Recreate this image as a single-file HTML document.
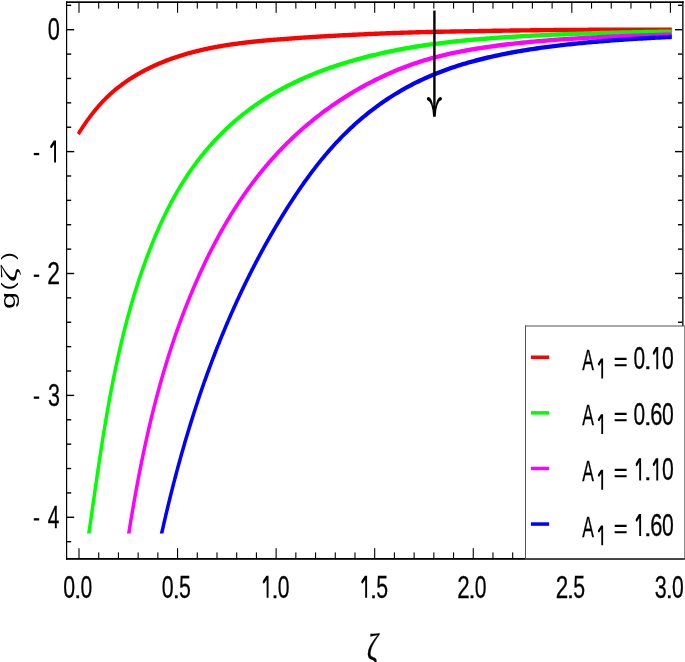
<!DOCTYPE html><html><head><meta charset="utf-8"><style>html,body{margin:0;padding:0;background:#fff;overflow:hidden}svg{display:block}</style></head><body><svg width="685" height="662" viewBox="0 0 685 662"><rect width="685" height="662" fill="#fff"/><defs><clipPath id="pc"><rect x="67" y="3" width="605.5" height="530.5"/></clipPath></defs>
<g clip-path="url(#pc)">
<g transform="scale(1,1.27)" fill="none" stroke-width="3.45" stroke-linejoin="round">
<path d="M78.27,105.505 L79.02,104.563 L79.45,104.014 L79.89,103.465 L80.34,102.918 L80.78,102.370 L81.23,101.824 L81.68,101.278 L82.13,100.734 L82.59,100.190 L83.04,99.646 L83.51,99.104 L83.97,98.563 L84.44,98.023 L84.90,97.483 L85.38,96.945 L85.85,96.408 L86.33,95.872 L86.81,95.338 L87.29,94.804 L87.78,94.272 L88.27,93.741 L88.76,93.212 L89.25,92.684 L89.75,92.157 L90.25,91.632 L90.75,91.108 L91.26,90.586 L91.77,90.066 L92.28,89.547 L92.79,89.030 L93.31,88.514 L93.83,88.001 L94.36,87.489 L94.88,86.979 L95.41,86.470 L95.95,85.964 L96.48,85.460 L97.02,84.958 L97.57,84.457 L98.11,83.959 L98.66,83.463 L99.21,82.969 L99.77,82.478 L100.33,81.988 L100.89,81.501 L101.45,81.016 L102.02,80.534 L102.59,80.054 L103.17,79.576 L103.74,79.101 L104.33,78.629 L104.91,78.159 L105.50,77.691 L106.09,77.226 L106.68,76.764 L107.28,76.305 L107.88,75.848 L108.49,75.395 L109.10,74.944 L109.71,74.496 L110.32,74.050 L110.94,73.608 L111.56,73.169 L112.19,72.733 L112.82,72.300 L113.45,71.870 L114.08,71.442 L114.72,71.018 L115.37,70.597 L116.01,70.179 L116.66,69.764 L117.31,69.351 L117.97,68.942 L118.62,68.536 L119.28,68.132 L119.95,67.732 L120.61,67.334 L121.28,66.939 L121.95,66.547 L122.63,66.158 L123.30,65.772 L123.98,65.389 L124.66,65.009 L125.35,64.631 L126.03,64.257 L126.72,63.885 L127.41,63.516 L128.11,63.150 L128.80,62.786 L129.50,62.426 L130.20,62.068 L130.90,61.713 L131.60,61.361 L132.31,61.012 L133.02,60.665 L133.73,60.321 L134.44,59.980 L135.15,59.642 L135.86,59.306 L136.58,58.973 L137.30,58.643 L138.02,58.316 L138.74,57.991 L139.46,57.669 L140.18,57.349 L140.91,57.033 L141.63,56.719 L142.36,56.407 L143.09,56.098 L143.82,55.792 L144.55,55.489 L145.28,55.188 L146.01,54.889 L146.75,54.594 L147.48,54.301 L148.22,54.010 L148.96,53.722 L149.70,53.436 L150.44,53.153 L151.18,52.872 L151.92,52.594 L152.66,52.319 L153.41,52.046 L154.16,51.775 L154.90,51.506 L155.65,51.241 L156.40,50.977 L157.15,50.716 L157.90,50.457 L158.66,50.201 L159.41,49.947 L160.16,49.695 L160.92,49.446 L161.68,49.199 L162.43,48.954 L163.19,48.712 L163.95,48.471 L164.71,48.233 L165.48,47.998 L166.24,47.764 L167.00,47.533 L167.77,47.304 L168.54,47.077 L169.30,46.853 L170.07,46.630 L170.84,46.410 L171.61,46.192 L172.38,45.976 L173.15,45.762 L173.93,45.550 L174.70,45.340 L175.48,45.132 L176.25,44.927 L177.03,44.723 L177.81,44.522 L178.58,44.322 L179.36,44.124 L180.14,43.929 L180.92,43.735 L181.71,43.544 L182.49,43.354 L183.27,43.167 L184.06,42.981 L184.84,42.797 L185.63,42.615 L186.42,42.435 L187.21,42.257 L187.99,42.081 L188.78,41.906 L189.57,41.734 L190.37,41.563 L191.16,41.394 L191.95,41.227 L192.74,41.061 L193.54,40.898 L194.33,40.736 L195.13,40.576 L195.93,40.417 L196.72,40.261 L197.52,40.106 L198.32,39.952 L199.12,39.801 L199.92,39.651 L200.72,39.503 L201.52,39.356 L202.33,39.211 L203.13,39.068 L203.93,38.926 L204.74,38.786 L205.54,38.647 L206.35,38.510 L207.15,38.374 L207.96,38.240 L208.77,38.108 L209.58,37.977 L210.39,37.848 L211.19,37.720 L212.00,37.593 L212.82,37.468 L213.63,37.344 L214.44,37.222 L215.25,37.102 L216.06,36.982 L216.88,36.864 L217.69,36.748 L218.51,36.632 L219.32,36.518 L220.14,36.406 L220.95,36.295 L221.77,36.185 L222.59,36.076 L223.41,35.969 L224.22,35.863 L225.04,35.758 L225.86,35.654 L226.68,35.552 L227.50,35.451 L228.32,35.351 L229.14,35.252 L229.97,35.155 L230.79,35.059 L231.61,34.963 L232.43,34.869 L233.26,34.776 L234.08,34.684 L234.91,34.594 L235.73,34.504 L236.56,34.416 L237.38,34.328 L238.21,34.242 L239.03,34.156 L239.86,34.072 L240.69,33.988 L241.51,33.906 L242.34,33.824 L243.17,33.744 L244.00,33.665 L244.83,33.586 L245.65,33.508 L246.48,33.432 L247.31,33.356 L248.14,33.281 L248.97,33.207 L249.80,33.134 L250.63,33.061 L251.46,32.990 L252.30,32.919 L253.13,32.849 L253.96,32.780 L254.79,32.712 L255.62,32.644 L256.45,32.578 L257.29,32.512 L258.12,32.446 L258.95,32.382 L259.79,32.318 L260.62,32.255 L261.45,32.192 L262.29,32.131 L263.12,32.069 L263.95,32.009 L264.79,31.949 L265.62,31.890 L266.46,31.831 L267.29,31.773 L268.13,31.715 L268.96,31.658 L269.80,31.602 L270.63,31.546 L271.47,31.491 L272.30,31.436 L273.14,31.381 L273.97,31.328 L274.81,31.274 L275.64,31.221 L276.48,31.169 L277.31,31.117 L278.15,31.065 L278.98,31.014 L279.82,30.963 L280.66,30.912 L281.49,30.862 L282.33,30.812 L283.16,30.763 L284.00,30.714 L284.83,30.665 L285.67,30.616 L286.50,30.568 L287.34,30.520 L288.18,30.472 L289.01,30.425 L289.85,30.378 L290.68,30.331 L291.52,30.284 L292.35,30.237 L293.19,30.191 L294.02,30.145 L294.86,30.099 L295.69,30.053 L296.53,30.008 L297.36,29.962 L298.20,29.917 L299.03,29.872 L299.87,29.828 L301.00,29.767 L303.00,29.662 L305.00,29.558 L307.00,29.454 L309.00,29.352 L311.00,29.252 L313.00,29.152 L315.00,29.054 L317.00,28.956 L319.00,28.860 L321.00,28.765 L323.00,28.671 L325.00,28.578 L327.00,28.487 L329.00,28.396 L331.00,28.307 L333.00,28.218 L335.00,28.131 L337.00,28.045 L339.00,27.960 L341.00,27.876 L343.00,27.793 L345.00,27.711 L347.00,27.630 L349.00,27.550 L351.00,27.472 L353.00,27.394 L355.00,27.317 L357.00,27.241 L359.00,27.167 L361.00,27.093 L363.00,27.020 L365.00,26.949 L367.00,26.878 L369.00,26.808 L371.00,26.740 L373.00,26.672 L375.00,26.605 L377.00,26.539 L379.00,26.474 L381.00,26.408 L383.00,26.339 L385.00,26.273 L387.00,26.208 L389.00,26.146 L391.00,26.084 L393.00,26.025 L395.00,25.967 L397.00,25.911 L399.00,25.856 L401.00,25.803 L403.00,25.751 L405.00,25.701 L407.00,25.651 L409.00,25.604 L411.00,25.557 L413.00,25.512 L415.00,25.468 L417.00,25.425 L419.00,25.383 L421.00,25.342 L423.00,25.302 L425.00,25.263 L427.00,25.225 L429.00,25.188 L431.00,25.152 L433.00,25.117 L435.00,25.083 L437.00,25.049 L439.00,25.016 L441.00,24.984 L443.00,24.953 L445.00,24.922 L447.00,24.892 L449.00,24.862 L451.00,24.833 L453.00,24.805 L455.00,24.777 L457.00,24.749 L459.00,24.722 L461.00,24.694 L463.00,24.664 L465.00,24.635 L467.00,24.605 L469.00,24.576 L471.00,24.548 L473.00,24.520 L475.00,24.492 L477.00,24.464 L479.00,24.437 L481.00,24.411 L483.00,24.384 L485.00,24.358 L487.00,24.332 L489.00,24.307 L491.00,24.282 L493.00,24.257 L495.00,24.233 L497.00,24.209 L499.00,24.185 L501.00,24.162 L503.00,24.139 L505.00,24.116 L507.00,24.094 L509.00,24.072 L511.00,24.050 L513.00,24.029 L515.00,24.008 L517.00,23.987 L519.00,23.967 L521.00,23.947 L523.00,23.928 L525.00,23.908 L527.00,23.890 L529.00,23.871 L531.00,23.853 L533.00,23.835 L535.00,23.818 L537.00,23.800 L539.00,23.784 L541.00,23.767 L543.00,23.751 L545.00,23.735 L547.00,23.720 L549.00,23.705 L551.00,23.690 L553.00,23.676 L555.00,23.662 L557.00,23.648 L559.00,23.635 L561.00,23.622 L563.00,23.609 L565.00,23.597 L567.00,23.585 L569.00,23.573 L571.00,23.562 L573.00,23.551 L575.00,23.541 L577.00,23.530 L579.00,23.520 L581.00,23.511 L583.00,23.502 L585.00,23.493 L587.00,23.484 L589.00,23.476 L591.00,23.468 L593.00,23.461 L595.00,23.454 L597.00,23.447 L599.00,23.441 L601.00,23.434 L603.00,23.429 L605.00,23.423 L607.00,23.418 L609.00,23.414 L611.00,23.409 L613.00,23.405 L615.00,23.401 L617.00,23.398 L619.00,23.395 L621.00,23.393 L623.00,23.390 L625.00,23.388 L627.00,23.387 L629.00,23.385 L631.00,23.385 L633.00,23.384 L635.00,23.384 L637.00,23.384 L639.00,23.384 L641.00,23.385 L643.00,23.386 L645.00,23.388 L647.00,23.390 L649.00,23.392 L651.00,23.394 L653.00,23.397 L655.00,23.400 L657.00,23.404 L659.00,23.408 L661.00,23.412 L663.00,23.417 L665.00,23.422 L667.00,23.427 L669.00,23.433 L671.00,23.439 L671.80,23.441" stroke="#ff0000"/>
<path d="M88.15,423.779 L89.09,418.638 L89.26,417.706 L89.43,416.775 L89.61,415.843 L89.78,414.911 L89.95,413.979 L90.12,413.047 L90.29,412.114 L90.46,411.182 L90.63,410.249 L90.80,409.316 L90.97,408.384 L91.14,407.451 L91.31,406.518 L91.48,405.584 L91.65,404.651 L91.81,403.718 L91.98,402.784 L92.15,401.851 L92.32,400.917 L92.49,399.984 L92.66,399.050 L92.83,398.116 L93.00,397.182 L93.17,396.248 L93.34,395.314 L93.51,394.380 L93.68,393.445 L93.85,392.511 L94.02,391.577 L94.19,390.642 L94.36,389.708 L94.53,388.773 L94.70,387.839 L94.87,386.904 L95.04,385.970 L95.22,385.035 L95.39,384.100 L95.56,383.165 L95.73,382.231 L95.90,381.296 L96.07,380.361 L96.25,379.426 L96.42,378.491 L96.59,377.556 L96.77,376.621 L96.94,375.686 L97.11,374.751 L97.29,373.816 L97.46,372.881 L97.64,371.946 L97.81,371.011 L97.99,370.076 L98.16,369.141 L98.34,368.206 L98.52,367.271 L98.69,366.337 L98.87,365.402 L99.05,364.467 L99.23,363.532 L99.41,362.597 L99.58,361.662 L99.76,360.728 L99.94,359.793 L100.12,358.858 L100.31,357.924 L100.49,356.989 L100.67,356.054 L100.85,355.120 L101.04,354.185 L101.22,353.251 L101.40,352.317 L101.59,351.382 L101.77,350.448 L101.96,349.514 L102.15,348.580 L102.33,347.646 L102.52,346.712 L102.71,345.778 L102.90,344.845 L103.09,343.911 L103.28,342.977 L103.47,342.044 L103.66,341.111 L103.85,340.177 L104.05,339.244 L104.24,338.311 L104.43,337.378 L104.63,336.445 L104.83,335.512 L105.02,334.580 L105.22,333.647 L105.42,332.715 L105.62,331.783 L105.82,330.851 L106.02,329.918 L106.22,328.987 L106.42,328.055 L106.63,327.123 L106.83,326.192 L107.04,325.260 L107.24,324.329 L107.45,323.398 L107.66,322.467 L107.86,321.537 L108.07,320.606 L108.28,319.676 L108.50,318.745 L108.71,317.815 L108.92,316.885 L109.14,315.956 L109.35,315.026 L109.57,314.097 L109.78,313.168 L110.00,312.239 L110.22,311.310 L110.44,310.381 L110.66,309.453 L110.89,308.524 L111.11,307.596 L111.33,306.668 L111.56,305.741 L111.79,304.813 L112.01,303.886 L112.24,302.959 L112.47,302.032 L112.70,301.106 L112.94,300.179 L113.17,299.253 L113.40,298.327 L113.64,297.402 L113.88,296.476 L114.12,295.551 L114.36,294.626 L114.60,293.701 L114.84,292.777 L115.08,291.852 L115.33,290.928 L115.57,290.005 L115.82,289.081 L116.07,288.158 L116.32,287.235 L116.57,286.312 L116.82,285.390 L117.07,284.468 L117.33,283.546 L117.58,282.624 L117.84,281.703 L118.10,280.782 L118.36,279.861 L118.62,278.941 L118.89,278.020 L119.15,277.101 L119.42,276.181 L119.69,275.262 L119.95,274.343 L120.23,273.424 L120.50,272.506 L120.77,271.587 L121.05,270.670 L121.32,269.752 L121.60,268.835 L121.88,267.918 L122.16,267.002 L122.44,266.086 L122.73,265.170 L123.01,264.254 L123.30,263.339 L123.59,262.424 L123.88,261.510 L124.17,260.596 L124.46,259.682 L124.76,258.769 L125.06,257.856 L125.36,256.943 L125.66,256.031 L125.96,255.119 L126.26,254.207 L126.57,253.296 L126.87,252.385 L127.18,251.474 L127.49,250.564 L127.81,249.654 L128.12,248.745 L128.44,247.836 L128.75,246.927 L129.07,246.019 L129.39,245.111 L129.72,244.204 L130.04,243.297 L130.37,242.390 L130.70,241.484 L131.03,240.578 L131.36,239.673 L131.69,238.768 L132.03,237.864 L132.37,236.959 L132.71,236.056 L133.05,235.152 L133.39,234.250 L133.74,233.347 L134.08,232.445 L134.43,231.544 L134.78,230.642 L135.14,229.742 L135.49,228.842 L135.85,227.942 L136.21,227.042 L136.57,226.144 L136.93,225.245 L137.30,224.347 L137.67,223.450 L138.04,222.553 L138.41,221.656 L138.78,220.760 L139.16,219.865 L139.53,218.969 L139.91,218.075 L140.30,217.181 L140.68,216.287 L141.07,215.394 L141.46,214.501 L141.85,213.609 L142.24,212.717 L142.63,211.826 L143.03,210.935 L143.43,210.045 L143.83,209.155 L144.24,208.266 L144.64,207.378 L145.05,206.489 L145.46,205.602 L145.87,204.715 L146.29,203.828 L146.71,202.942 L147.13,202.057 L147.55,201.172 L147.97,200.287 L148.40,199.403 L148.83,198.520 L149.26,197.637 L149.69,196.755 L150.13,195.874 L150.57,194.993 L151.01,194.113 L151.45,193.234 L151.90,192.355 L152.35,191.477 L152.80,190.600 L153.26,189.723 L153.71,188.848 L154.17,187.973 L154.63,187.099 L155.10,186.226 L155.57,185.354 L156.04,184.483 L156.51,183.613 L156.99,182.743 L157.46,181.875 L157.95,181.007 L158.43,180.141 L158.92,179.276 L159.41,178.412 L159.90,177.548 L160.40,176.686 L160.90,175.825 L161.40,174.966 L161.91,174.107 L162.41,173.250 L162.93,172.393 L163.44,171.539 L163.96,170.685 L164.48,169.832 L165.00,168.981 L165.53,168.131 L166.06,167.283 L166.60,166.436 L167.13,165.590 L167.67,164.746 L168.22,163.903 L168.76,163.061 L169.32,162.221 L169.87,161.383 L170.43,160.546 L170.99,159.710 L171.55,158.876 L172.12,158.044 L172.69,157.213 L173.27,156.384 L173.85,155.556 L174.43,154.730 L175.01,153.906 L175.60,153.084 L176.20,152.263 L176.79,151.444 L177.40,150.626 L178.00,149.811 L178.61,148.997 L179.22,148.185 L179.84,147.375 L180.46,146.567 L181.08,145.761 L181.71,144.957 L182.34,144.154 L182.97,143.354 L183.61,142.555 L184.26,141.759 L184.91,140.964 L185.56,140.172 L186.21,139.381 L186.87,138.593 L187.54,137.807 L188.20,137.023 L188.88,136.241 L189.55,135.461 L190.23,134.683 L190.92,133.908 L191.61,133.135 L192.30,132.364 L193.00,131.595 L193.70,130.829 L194.41,130.065 L195.12,129.303 L195.83,128.544 L196.55,127.787 L197.28,127.033 L198.00,126.280 L198.74,125.531 L199.47,124.784 L200.21,124.039 L200.96,123.297 L201.71,122.557 L202.46,121.820 L203.22,121.086 L203.98,120.354 L204.75,119.625 L205.52,118.898 L206.29,118.175 L207.07,117.454 L207.85,116.735 L208.64,116.020 L209.43,115.307 L210.22,114.597 L211.02,113.890 L211.82,113.186 L212.63,112.484 L213.44,111.786 L214.26,111.091 L215.07,110.398 L215.89,109.708 L216.72,109.022 L217.55,108.338 L218.38,107.658 L219.22,106.981 L220.06,106.306 L220.91,105.635 L221.75,104.967 L222.61,104.303 L223.46,103.641 L224.32,102.983 L225.18,102.327 L226.05,101.676 L226.92,101.027 L227.79,100.382 L228.67,99.740 L229.55,99.101 L230.44,98.466 L231.32,97.835 L232.22,97.206 L233.11,96.582 L234.01,95.960 L234.91,95.342 L235.82,94.728 L236.73,94.117 L237.64,93.510 L238.55,92.907 L239.47,92.307 L240.39,91.711 L241.32,91.118 L242.25,90.529 L243.18,89.944 L244.11,89.363 L245.05,88.785 L245.99,88.212 L246.94,87.642 L247.89,87.075 L248.84,86.513 L249.79,85.954 L250.75,85.399 L251.71,84.848 L252.67,84.301 L253.64,83.757 L254.61,83.217 L255.58,82.680 L256.56,82.148 L257.54,81.619 L258.52,81.093 L259.50,80.571 L260.49,80.053 L261.48,79.538 L262.47,79.027 L263.47,78.520 L264.47,78.016 L265.47,77.515 L266.47,77.018 L267.48,76.525 L268.49,76.035 L269.50,75.548 L270.52,75.065 L271.54,74.586 L272.56,74.110 L273.58,73.637 L274.61,73.168 L275.63,72.702 L276.67,72.239 L277.70,71.780 L278.73,71.324 L279.77,70.872 L280.81,70.422 L281.86,69.977 L282.90,69.534 L283.95,69.095 L285.00,68.659 L286.06,68.226 L287.11,67.796 L288.17,67.370 L289.23,66.947 L290.29,66.527 L291.36,66.110 L292.42,65.697 L293.49,65.287 L294.57,64.879 L295.64,64.475 L296.72,64.074 L297.79,63.676 L298.87,63.281 L299.96,62.890 L301.00,62.516 L303.00,61.808 L305.00,61.114 L307.00,60.431 L309.00,59.761 L311.00,59.103 L313.00,58.456 L315.00,57.821 L317.00,57.197 L319.00,56.583 L321.00,55.981 L323.00,55.389 L325.00,54.807 L327.00,54.235 L329.00,53.674 L331.00,53.122 L333.00,52.580 L335.00,52.047 L337.00,51.523 L339.00,51.009 L341.00,50.503 L343.00,50.006 L345.00,49.518 L347.00,49.039 L349.00,48.567 L351.00,48.104 L353.00,47.649 L355.00,47.201 L357.00,46.762 L359.00,46.330 L361.00,45.905 L363.00,45.488 L365.00,45.078 L367.00,44.676 L369.00,44.280 L371.00,43.891 L373.00,43.509 L375.00,43.134 L377.00,42.765 L379.00,42.403 L381.00,42.045 L383.00,41.692 L385.00,41.346 L387.00,41.005 L389.00,40.670 L391.00,40.342 L393.00,40.019 L395.00,39.702 L397.00,39.391 L399.00,39.086 L401.00,38.787 L403.00,38.493 L405.00,38.205 L407.00,37.923 L409.00,37.646 L411.00,37.374 L413.00,37.109 L415.00,36.848 L417.00,36.593 L419.00,36.343 L421.00,36.098 L423.00,35.858 L425.00,35.623 L427.00,35.394 L429.00,35.169 L431.00,34.949 L433.00,34.734 L435.00,34.523 L437.00,34.317 L439.00,34.116 L441.00,33.919 L443.00,33.727 L445.00,33.539 L447.00,33.355 L449.00,33.175 L451.00,32.999 L453.00,32.827 L455.00,32.659 L457.00,32.495 L459.00,32.334 L461.00,32.175 L463.00,32.017 L465.00,31.862 L467.00,31.711 L469.00,31.562 L471.00,31.416 L473.00,31.273 L475.00,31.132 L477.00,30.995 L479.00,30.860 L481.00,30.727 L483.00,30.597 L485.00,30.470 L487.00,30.345 L489.00,30.222 L491.00,30.102 L493.00,29.984 L495.00,29.868 L497.00,29.755 L499.00,29.643 L501.00,29.534 L503.00,29.427 L505.00,29.321 L507.00,29.218 L509.00,29.117 L511.00,29.018 L513.00,28.920 L515.00,28.824 L517.00,28.731 L519.00,28.638 L521.00,28.548 L523.00,28.459 L525.00,28.372 L527.00,28.287 L529.00,28.203 L531.00,28.121 L533.00,28.040 L535.00,27.961 L537.00,27.883 L539.00,27.807 L541.00,27.732 L543.00,27.658 L545.00,27.586 L547.00,27.515 L549.00,27.446 L551.00,27.377 L553.00,27.310 L555.00,27.244 L557.00,27.180 L559.00,27.116 L561.00,27.054 L563.00,26.993 L565.00,26.933 L567.00,26.874 L569.00,26.816 L571.00,26.759 L573.00,26.704 L575.00,26.649 L577.00,26.595 L579.00,26.542 L581.00,26.490 L583.00,26.439 L585.00,26.389 L587.00,26.340 L589.00,26.292 L591.00,26.245 L593.00,26.198 L595.00,26.152 L597.00,26.107 L599.00,26.063 L601.00,26.020 L603.00,25.978 L605.00,25.936 L607.00,25.895 L609.00,25.854 L611.00,25.815 L613.00,25.776 L615.00,25.738 L617.00,25.700 L619.00,25.663 L621.00,25.627 L623.00,25.591 L625.00,25.556 L627.00,25.522 L629.00,25.488 L631.00,25.455 L633.00,25.422 L635.00,25.390 L637.00,25.359 L639.00,25.328 L641.00,25.298 L643.00,25.268 L645.00,25.238 L647.00,25.209 L649.00,25.181 L651.00,25.153 L653.00,25.126 L655.00,25.099 L657.00,25.072 L659.00,25.046 L661.00,25.021 L663.00,24.996 L665.00,24.971 L667.00,24.947 L669.00,24.923 L671.00,24.899 L671.80,24.890" stroke="#00ff00"/>
<path d="M128.01,423.759 L129.05,418.659 L129.22,417.789 L129.40,416.918 L129.58,416.048 L129.76,415.178 L129.94,414.308 L130.12,413.438 L130.30,412.568 L130.48,411.698 L130.66,410.829 L130.84,409.959 L131.03,409.090 L131.21,408.220 L131.39,407.351 L131.58,406.482 L131.76,405.613 L131.95,404.744 L132.14,403.876 L132.32,403.007 L132.51,402.139 L132.70,401.270 L132.89,400.402 L133.08,399.534 L133.27,398.666 L133.46,397.798 L133.65,396.931 L133.85,396.063 L134.04,395.196 L134.23,394.328 L134.43,393.461 L134.62,392.594 L134.82,391.727 L135.02,390.861 L135.21,389.994 L135.41,389.128 L135.61,388.261 L135.81,387.395 L136.01,386.529 L136.21,385.664 L136.42,384.798 L136.62,383.932 L136.82,383.067 L137.03,382.202 L137.23,381.337 L137.44,380.472 L137.64,379.607 L137.85,378.743 L138.06,377.878 L138.27,377.014 L138.48,376.150 L138.69,375.286 L138.90,374.422 L139.11,373.559 L139.32,372.695 L139.54,371.832 L139.75,370.969 L139.97,370.106 L140.18,369.243 L140.40,368.381 L140.62,367.519 L140.84,366.657 L141.06,365.795 L141.28,364.933 L141.50,364.071 L141.72,363.210 L141.95,362.349 L142.17,361.488 L142.40,360.627 L142.62,359.766 L142.85,358.906 L143.08,358.046 L143.31,357.186 L143.54,356.326 L143.77,355.466 L144.00,354.607 L144.23,353.748 L144.46,352.889 L144.70,352.030 L144.93,351.171 L145.17,350.313 L145.41,349.455 L145.64,348.597 L145.88,347.739 L146.12,346.881 L146.37,346.024 L146.61,345.167 L146.85,344.310 L147.10,343.454 L147.34,342.597 L147.59,341.741 L147.83,340.885 L148.08,340.029 L148.33,339.174 L148.58,338.318 L148.83,337.463 L149.09,336.609 L149.34,335.754 L149.59,334.900 L149.85,334.046 L150.11,333.192 L150.36,332.338 L150.62,331.485 L150.88,330.632 L151.14,329.779 L151.41,328.926 L151.67,328.074 L151.93,327.222 L152.20,326.370 L152.47,325.518 L152.73,324.667 L153.00,323.816 L153.27,322.965 L153.54,322.114 L153.82,321.264 L154.09,320.414 L154.36,319.564 L154.64,318.714 L154.92,317.865 L155.20,317.016 L155.47,316.167 L155.75,315.319 L156.04,314.470 L156.32,313.623 L156.60,312.775 L156.89,311.927 L157.18,311.080 L157.46,310.234 L157.75,309.387 L158.04,308.541 L158.33,307.695 L158.63,306.849 L158.92,306.004 L159.22,305.158 L159.51,304.314 L159.81,303.469 L160.11,302.625 L160.41,301.781 L160.71,300.937 L161.01,300.094 L161.32,299.251 L161.62,298.408 L161.93,297.565 L162.24,296.723 L162.55,295.881 L162.86,295.040 L163.17,294.198 L163.48,293.357 L163.80,292.517 L164.11,291.676 L164.43,290.836 L164.75,289.997 L165.07,289.157 L165.39,288.318 L165.71,287.479 L166.03,286.641 L166.36,285.803 L166.69,284.965 L167.01,284.128 L167.34,283.290 L167.68,282.454 L168.01,281.617 L168.34,280.781 L168.68,279.945 L169.01,279.110 L169.35,278.274 L169.69,277.440 L170.03,276.605 L170.37,275.771 L170.72,274.937 L171.06,274.104 L171.41,273.270 L171.76,272.438 L172.11,271.605 L172.46,270.773 L172.81,269.941 L173.16,269.110 L173.52,268.279 L173.88,267.448 L174.23,266.618 L174.59,265.788 L174.96,264.958 L175.32,264.129 L175.68,263.300 L176.05,262.471 L176.42,261.643 L176.79,260.815 L177.16,259.988 L177.53,259.161 L177.90,258.334 L178.28,257.508 L178.65,256.682 L179.03,255.856 L179.41,255.031 L179.79,254.206 L180.18,253.382 L180.56,252.557 L180.95,251.734 L181.34,250.910 L181.72,250.087 L182.12,249.265 L182.51,248.443 L182.90,247.621 L183.30,246.799 L183.70,245.978 L184.10,245.158 L184.50,244.337 L184.90,243.518 L185.30,242.698 L185.71,241.879 L186.12,241.060 L186.53,240.242 L186.94,239.424 L187.35,238.607 L187.76,237.790 L188.18,236.973 L188.60,236.157 L189.02,235.341 L189.44,234.526 L189.86,233.711 L190.28,232.896 L190.71,232.082 L191.14,231.268 L191.57,230.455 L192.00,229.642 L192.43,228.829 L192.87,228.017 L193.30,227.206 L193.74,226.394 L194.18,225.584 L194.62,224.773 L195.07,223.963 L195.51,223.154 L195.96,222.345 L196.41,221.537 L196.86,220.729 L197.31,219.922 L197.77,219.115 L198.22,218.308 L198.68,217.503 L199.14,216.698 L199.60,215.893 L200.07,215.089 L200.53,214.286 L201.00,213.483 L201.47,212.681 L201.94,211.879 L202.41,211.078 L202.89,210.278 L203.37,209.478 L203.84,208.679 L204.33,207.881 L204.81,207.083 L205.29,206.287 L205.78,205.490 L206.27,204.695 L206.76,203.900 L207.25,203.106 L207.75,202.313 L208.24,201.521 L208.74,200.729 L209.24,199.938 L209.74,199.148 L210.25,198.359 L210.75,197.570 L211.26,196.782 L211.77,195.996 L212.28,195.210 L212.80,194.424 L213.32,193.640 L213.83,192.857 L214.35,192.074 L214.88,191.293 L215.40,190.512 L215.93,189.732 L216.46,188.953 L216.99,188.176 L217.52,187.399 L218.06,186.623 L218.60,185.848 L219.13,185.074 L219.68,184.301 L220.22,183.528 L220.77,182.757 L221.31,181.987 L221.86,181.219 L222.42,180.451 L222.97,179.684 L223.53,178.918 L224.09,178.153 L224.65,177.390 L225.21,176.627 L225.78,175.866 L226.34,175.105 L226.91,174.346 L227.49,173.588 L228.06,172.831 L228.64,172.076 L229.22,171.321 L229.80,170.568 L230.38,169.816 L230.97,169.065 L231.55,168.315 L232.14,167.566 L232.74,166.819 L233.33,166.073 L233.93,165.328 L234.53,164.585 L235.13,163.842 L235.73,163.101 L236.34,162.362 L236.95,161.623 L237.56,160.886 L238.17,160.151 L238.79,159.416 L239.41,158.683 L240.03,157.952 L240.65,157.221 L241.28,156.492 L241.90,155.765 L242.53,155.039 L243.17,154.314 L243.80,153.591 L244.44,152.869 L245.08,152.149 L245.72,151.430 L246.36,150.712 L247.01,149.996 L247.66,149.282 L248.31,148.569 L248.97,147.857 L249.62,147.147 L250.28,146.439 L250.95,145.732 L251.61,145.026 L252.28,144.322 L252.95,143.620 L253.62,142.920 L254.29,142.221 L254.97,141.523 L255.65,140.827 L256.33,140.133 L257.01,139.440 L257.70,138.749 L258.39,138.060 L259.08,137.372 L259.78,136.686 L260.48,136.002 L261.18,135.320 L261.88,134.639 L262.58,133.960 L263.29,133.282 L264.00,132.606 L264.71,131.933 L265.43,131.260 L266.15,130.590 L266.87,129.921 L267.59,129.254 L268.32,128.589 L269.05,127.926 L269.78,127.265 L270.51,126.605 L271.25,125.947 L271.99,125.292 L272.73,124.638 L273.48,123.985 L274.23,123.335 L274.98,122.687 L275.73,122.040 L276.48,121.396 L277.24,120.753 L278.00,120.112 L278.77,119.473 L279.53,118.836 L280.30,118.201 L281.07,117.568 L281.85,116.937 L282.62,116.307 L283.40,115.680 L284.18,115.055 L284.97,114.432 L285.75,113.810 L286.54,113.191 L287.33,112.573 L288.13,111.958 L288.92,111.345 L289.72,110.733 L290.52,110.124 L291.33,109.517 L292.13,108.911 L292.94,108.308 L293.75,107.707 L294.57,107.108 L295.38,106.511 L296.20,105.916 L297.02,105.323 L297.84,104.732 L298.67,104.143 L299.50,103.557 L300.00,103.203 L302.00,101.806 L304.00,100.432 L306.00,99.078 L308.00,97.744 L310.00,96.431 L312.00,95.138 L314.00,93.865 L316.00,92.610 L318.00,91.375 L320.00,90.158 L322.00,88.960 L324.00,87.779 L326.00,86.617 L328.00,85.472 L330.00,84.344 L332.00,83.234 L334.00,82.140 L336.00,81.062 L338.00,80.002 L340.00,78.957 L342.00,77.928 L344.00,76.915 L346.00,75.918 L348.00,74.936 L350.00,73.970 L352.00,73.018 L354.00,72.082 L356.00,71.160 L358.00,70.253 L360.00,69.361 L362.00,68.483 L364.00,67.619 L366.00,66.769 L368.00,65.934 L370.00,65.112 L372.00,64.304 L374.00,63.509 L376.00,62.729 L378.00,61.961 L380.00,61.207 L382.00,60.452 L384.00,59.710 L386.00,58.980 L388.00,58.263 L390.00,57.559 L392.00,56.869 L394.00,56.192 L396.00,55.528 L398.00,54.878 L400.00,54.242 L402.00,53.619 L404.00,53.009 L406.00,52.413 L408.00,51.830 L410.00,51.259 L412.00,50.702 L414.00,50.157 L416.00,49.625 L418.00,49.105 L420.00,48.596 L422.00,48.100 L424.00,47.616 L426.00,47.143 L428.00,46.681 L430.00,46.231 L432.00,45.791 L434.00,45.363 L436.00,44.944 L438.00,44.536 L440.00,44.138 L442.00,43.750 L444.00,43.372 L446.00,43.003 L448.00,42.644 L450.00,42.293 L452.00,41.952 L454.00,41.619 L456.00,41.294 L458.00,40.977 L460.00,40.669 L462.00,40.364 L464.00,40.066 L466.00,39.774 L468.00,39.488 L470.00,39.208 L472.00,38.934 L474.00,38.666 L476.00,38.404 L478.00,38.147 L480.00,37.895 L482.00,37.649 L484.00,37.408 L486.00,37.172 L488.00,36.941 L490.00,36.714 L492.00,36.493 L494.00,36.275 L496.00,36.063 L498.00,35.855 L500.00,35.651 L502.00,35.451 L504.00,35.255 L506.00,35.063 L508.00,34.875 L510.00,34.691 L512.00,34.511 L514.00,34.334 L516.00,34.161 L518.00,33.991 L520.00,33.825 L522.00,33.662 L524.00,33.502 L526.00,33.345 L528.00,33.192 L530.00,33.041 L532.00,32.894 L534.00,32.749 L536.00,32.607 L538.00,32.468 L540.00,32.332 L542.00,32.198 L544.00,32.067 L546.00,31.939 L548.00,31.813 L550.00,31.689 L552.00,31.568 L554.00,31.449 L556.00,31.332 L558.00,31.218 L560.00,31.106 L562.00,30.995 L564.00,30.887 L566.00,30.781 L568.00,30.678 L570.00,30.575 L572.00,30.475 L574.00,30.377 L576.00,30.281 L578.00,30.186 L580.00,30.093 L582.00,30.002 L584.00,29.913 L586.00,29.825 L588.00,29.739 L590.00,29.654 L592.00,29.571 L594.00,29.490 L596.00,29.410 L598.00,29.331 L600.00,29.254 L602.00,29.178 L604.00,29.104 L606.00,29.031 L608.00,28.959 L610.00,28.889 L612.00,28.820 L614.00,28.752 L616.00,28.685 L618.00,28.619 L620.00,28.555 L622.00,28.492 L624.00,28.430 L626.00,28.369 L628.00,28.309 L630.00,28.250 L632.00,28.192 L634.00,28.135 L636.00,28.080 L638.00,28.025 L640.00,27.971 L642.00,27.918 L644.00,27.866 L646.00,27.815 L648.00,27.765 L650.00,27.715 L652.00,27.667 L654.00,27.619 L656.00,27.572 L658.00,27.526 L660.00,27.481 L662.00,27.436 L664.00,27.392 L666.00,27.349 L668.00,27.307 L670.00,27.266 L671.80,27.228" stroke="#ff00ff"/>
<path d="M160.62,423.672 L162.04,418.657 L162.27,417.845 L162.51,417.034 L162.74,416.223 L162.97,415.412 L163.21,414.601 L163.44,413.790 L163.67,412.980 L163.91,412.169 L164.15,411.359 L164.38,410.548 L164.62,409.738 L164.86,408.927 L165.10,408.117 L165.34,407.307 L165.58,406.497 L165.82,405.687 L166.06,404.877 L166.30,404.067 L166.55,403.258 L166.79,402.448 L167.04,401.639 L167.28,400.829 L167.53,400.020 L167.78,399.211 L168.02,398.402 L168.27,397.593 L168.52,396.784 L168.77,395.976 L169.02,395.167 L169.27,394.359 L169.52,393.550 L169.78,392.742 L170.03,391.934 L170.28,391.126 L170.54,390.318 L170.79,389.510 L171.05,388.703 L171.31,387.895 L171.56,387.088 L171.82,386.281 L172.08,385.474 L172.34,384.667 L172.60,383.860 L172.86,383.053 L173.13,382.247 L173.39,381.440 L173.65,380.634 L173.92,379.828 L174.18,379.022 L174.45,378.216 L174.72,377.410 L174.98,376.605 L175.25,375.799 L175.52,374.994 L175.79,374.189 L176.06,373.384 L176.33,372.579 L176.61,371.774 L176.88,370.970 L177.15,370.166 L177.43,369.361 L177.70,368.557 L177.98,367.754 L178.26,366.950 L178.53,366.146 L178.81,365.343 L179.09,364.540 L179.37,363.737 L179.65,362.934 L179.94,362.131 L180.22,361.329 L180.50,360.527 L180.79,359.725 L181.07,358.923 L181.36,358.121 L181.64,357.319 L181.93,356.518 L182.22,355.717 L182.51,354.916 L182.80,354.115 L183.09,353.314 L183.38,352.514 L183.68,351.713 L183.97,350.913 L184.26,350.113 L184.56,349.314 L184.85,348.514 L185.15,347.715 L185.45,346.916 L185.75,346.117 L186.05,345.318 L186.35,344.520 L186.65,343.722 L186.95,342.924 L187.25,342.126 L187.56,341.328 L187.86,340.531 L188.17,339.733 L188.47,338.937 L188.78,338.140 L189.09,337.343 L189.40,336.547 L189.71,335.751 L190.02,334.955 L190.33,334.159 L190.64,333.364 L190.96,332.569 L191.27,331.774 L191.59,330.979 L191.90,330.184 L192.22,329.390 L192.54,328.596 L192.86,327.802 L193.18,327.009 L193.50,326.215 L193.82,325.422 L194.14,324.629 L194.47,323.837 L194.79,323.044 L195.12,322.252 L195.44,321.460 L195.77,320.669 L196.10,319.877 L196.43,319.086 L196.76,318.295 L197.09,317.505 L197.42,316.714 L197.75,315.924 L198.09,315.134 L198.42,314.345 L198.76,313.556 L199.09,312.766 L199.43,311.978 L199.77,311.189 L200.11,310.401 L200.45,309.613 L200.79,308.825 L201.13,308.038 L201.48,307.251 L201.82,306.464 L202.16,305.677 L202.51,304.891 L202.86,304.105 L203.21,303.319 L203.56,302.534 L203.91,301.748 L204.26,300.963 L204.61,300.179 L204.96,299.394 L205.32,298.610 L205.67,297.827 L206.03,297.043 L206.38,296.260 L206.74,295.477 L207.10,294.695 L207.46,293.912 L207.82,293.130 L208.18,292.349 L208.55,291.567 L208.91,290.786 L209.28,290.005 L209.64,289.225 L210.01,288.445 L210.38,287.665 L210.75,286.885 L211.12,286.106 L211.49,285.327 L211.86,284.549 L212.23,283.771 L212.61,282.993 L212.98,282.215 L213.36,281.438 L213.74,280.661 L214.11,279.884 L214.49,279.108 L214.87,278.332 L215.26,277.556 L215.64,276.781 L216.02,276.006 L216.41,275.231 L216.79,274.457 L217.18,273.683 L217.57,272.909 L217.96,272.136 L218.35,271.363 L218.74,270.590 L219.13,269.818 L219.52,269.046 L219.92,268.274 L220.31,267.503 L220.71,266.732 L221.11,265.962 L221.50,265.191 L221.90,264.422 L222.30,263.652 L222.71,262.883 L223.11,262.114 L223.51,261.346 L223.92,260.578 L224.32,259.810 L224.73,259.043 L225.14,258.276 L225.55,257.509 L225.96,256.743 L226.37,255.977 L226.78,255.212 L227.20,254.447 L227.61,253.682 L228.03,252.918 L228.45,252.154 L228.87,251.390 L229.29,250.627 L229.71,249.864 L230.13,249.101 L230.55,248.339 L230.97,247.578 L231.40,246.816 L231.83,246.056 L232.25,245.295 L232.68,244.535 L233.11,243.775 L233.54,243.016 L233.97,242.257 L234.41,241.498 L234.84,240.740 L235.28,239.983 L235.71,239.225 L236.15,238.468 L236.59,237.712 L237.03,236.956 L237.47,236.200 L237.92,235.445 L238.36,234.690 L238.80,233.935 L239.25,233.181 L239.70,232.428 L240.15,231.674 L240.59,230.922 L241.05,230.169 L241.50,229.417 L241.95,228.666 L242.40,227.915 L242.86,227.164 L243.32,226.414 L243.77,225.664 L244.23,224.914 L244.69,224.165 L245.16,223.417 L245.62,222.669 L246.08,221.921 L246.55,221.174 L247.01,220.427 L247.48,219.681 L247.95,218.935 L248.42,218.189 L248.89,217.444 L249.36,216.700 L249.84,215.956 L250.31,215.212 L250.79,214.469 L251.26,213.726 L251.74,212.984 L252.22,212.242 L252.70,211.500 L253.19,210.759 L253.67,210.019 L254.15,209.279 L254.64,208.539 L255.13,207.800 L255.62,207.061 L256.11,206.323 L256.60,205.586 L257.09,204.848 L257.58,204.112 L258.08,203.375 L258.57,202.639 L259.07,201.904 L259.57,201.169 L260.07,200.435 L260.57,199.701 L261.07,198.967 L261.58,198.234 L262.08,197.502 L262.59,196.770 L263.09,196.038 L263.60,195.307 L264.11,194.577 L264.62,193.847 L265.14,193.117 L265.65,192.388 L266.17,191.660 L266.68,190.932 L267.20,190.204 L267.72,189.477 L268.24,188.751 L268.76,188.025 L269.28,187.299 L269.81,186.574 L270.33,185.849 L270.86,185.125 L271.39,184.402 L271.92,183.679 L272.45,182.956 L272.98,182.235 L273.52,181.513 L274.05,180.792 L274.59,180.072 L275.13,179.352 L275.66,178.632 L276.20,177.914 L276.75,177.195 L277.29,176.477 L277.83,175.760 L278.38,175.043 L278.93,174.327 L279.47,173.612 L280.02,172.896 L280.58,172.182 L281.13,171.468 L281.68,170.754 L282.24,170.041 L282.79,169.329 L283.35,168.617 L283.91,167.905 L284.47,167.195 L285.03,166.484 L285.60,165.775 L286.16,165.065 L286.73,164.357 L287.29,163.649 L287.86,162.941 L288.43,162.235 L289.01,161.528 L289.58,160.823 L290.15,160.118 L290.73,159.414 L291.31,158.710 L291.89,158.007 L292.47,157.305 L293.05,156.604 L293.63,155.904 L294.22,155.204 L294.81,154.505 L295.39,153.807 L295.98,153.110 L296.58,152.414 L297.17,151.718 L297.76,151.024 L298.36,150.330 L298.96,149.638 L299.56,148.946 L300.00,148.440 L302.00,146.163 L304.00,143.919 L306.00,141.708 L308.00,139.530 L310.00,137.386 L312.00,135.275 L314.00,133.198 L316.00,131.155 L318.00,129.145 L320.00,127.169 L322.00,125.227 L324.00,123.317 L326.00,121.442 L328.00,119.599 L330.00,117.789 L332.00,116.012 L334.00,114.267 L336.00,112.555 L338.00,110.874 L340.00,109.226 L342.00,107.608 L344.00,106.022 L346.00,104.465 L348.00,102.937 L350.00,101.438 L352.00,99.968 L354.00,98.524 L356.00,97.108 L358.00,95.718 L360.00,94.353 L362.00,93.015 L364.00,91.701 L366.00,90.412 L368.00,89.147 L370.00,87.905 L372.00,86.687 L374.00,85.492 L376.00,84.319 L378.00,83.169 L380.00,82.041 L382.00,80.928 L384.00,79.835 L386.00,78.763 L388.00,77.712 L390.00,76.681 L392.00,75.670 L394.00,74.679 L396.00,73.708 L398.00,72.756 L400.00,71.824 L402.00,70.911 L404.00,70.017 L406.00,69.142 L408.00,68.284 L410.00,67.444 L412.00,66.621 L414.00,65.815 L416.00,65.026 L418.00,64.253 L420.00,63.496 L422.00,62.754 L424.00,62.028 L426.00,61.316 L428.00,60.620 L430.00,59.937 L432.00,59.269 L434.00,58.615 L436.00,57.975 L438.00,57.348 L440.00,56.734 L442.00,56.133 L444.00,55.544 L446.00,54.969 L448.00,54.405 L450.00,53.853 L452.00,53.313 L454.00,52.784 L456.00,52.267 L458.00,51.760 L460.00,51.265 L462.00,50.781 L464.00,50.306 L466.00,49.842 L468.00,49.386 L470.00,48.939 L472.00,48.502 L474.00,48.073 L476.00,47.652 L478.00,47.240 L480.00,46.836 L482.00,46.439 L484.00,46.051 L486.00,45.670 L488.00,45.297 L490.00,44.931 L492.00,44.572 L494.00,44.220 L496.00,43.875 L498.00,43.536 L500.00,43.204 L502.00,42.879 L504.00,42.559 L506.00,42.246 L508.00,41.939 L510.00,41.638 L512.00,41.342 L514.00,41.052 L516.00,40.768 L518.00,40.489 L520.00,40.215 L522.00,39.946 L524.00,39.683 L526.00,39.424 L528.00,39.171 L530.00,38.922 L532.00,38.677 L534.00,38.438 L536.00,38.202 L538.00,37.971 L540.00,37.745 L542.00,37.522 L544.00,37.304 L546.00,37.090 L548.00,36.879 L550.00,36.673 L552.00,36.470 L554.00,36.271 L556.00,36.076 L558.00,35.884 L560.00,35.696 L562.00,35.511 L564.00,35.329 L566.00,35.151 L568.00,34.976 L570.00,34.804 L572.00,34.635 L574.00,34.469 L576.00,34.306 L578.00,34.147 L580.00,33.989 L582.00,33.835 L584.00,33.684 L586.00,33.535 L588.00,33.388 L590.00,33.245 L592.00,33.104 L594.00,32.965 L596.00,32.829 L598.00,32.695 L600.00,32.563 L602.00,32.434 L604.00,32.307 L606.00,32.182 L608.00,32.059 L610.00,31.939 L612.00,31.821 L614.00,31.704 L616.00,31.590 L618.00,31.477 L620.00,31.367 L622.00,31.258 L624.00,31.151 L626.00,31.046 L628.00,30.943 L630.00,30.842 L632.00,30.742 L634.00,30.644 L636.00,30.547 L638.00,30.453 L640.00,30.359 L642.00,30.268 L644.00,30.177 L646.00,30.089 L648.00,30.002 L650.00,29.916 L652.00,29.832 L654.00,29.749 L656.00,29.667 L658.00,29.587 L660.00,29.508 L662.00,29.431 L664.00,29.354 L666.00,29.279 L668.00,29.205 L670.00,29.133 L671.80,29.068" stroke="#0000ff"/>
</g></g>
<g fill="#000"><rect x="66" y="1.3" width="617.6" height="1.7" fill="#000"/><rect x="66" y="1.3" width="1.2" height="558.5" fill="#000"/><rect x="682.2" y="1.3" width="1.3" height="558.5" fill="#000"/><rect x="66" y="558" width="617.6" height="1.8" fill="#000"/><rect x="67" y="540.98" width="4.2" height="1.4"/><rect x="678.00" y="540.98" width="4.2" height="1.4"/><rect x="67" y="516.60" width="7.2" height="1.4"/><rect x="675.00" y="516.60" width="7.2" height="1.4"/><rect x="67" y="492.22" width="4.2" height="1.4"/><rect x="678.00" y="492.22" width="4.2" height="1.4"/><rect x="67" y="467.84" width="4.2" height="1.4"/><rect x="678.00" y="467.84" width="4.2" height="1.4"/><rect x="67" y="443.46" width="4.2" height="1.4"/><rect x="678.00" y="443.46" width="4.2" height="1.4"/><rect x="67" y="419.08" width="4.2" height="1.4"/><rect x="678.00" y="419.08" width="4.2" height="1.4"/><rect x="67" y="394.70" width="7.2" height="1.4"/><rect x="675.00" y="394.70" width="7.2" height="1.4"/><rect x="67" y="370.32" width="4.2" height="1.4"/><rect x="678.00" y="370.32" width="4.2" height="1.4"/><rect x="67" y="345.94" width="4.2" height="1.4"/><rect x="678.00" y="345.94" width="4.2" height="1.4"/><rect x="67" y="321.56" width="4.2" height="1.4"/><rect x="678.00" y="321.56" width="4.2" height="1.4"/><rect x="67" y="297.18" width="4.2" height="1.4"/><rect x="678.00" y="297.18" width="4.2" height="1.4"/><rect x="67" y="272.80" width="7.2" height="1.4"/><rect x="675.00" y="272.80" width="7.2" height="1.4"/><rect x="67" y="248.42" width="4.2" height="1.4"/><rect x="678.00" y="248.42" width="4.2" height="1.4"/><rect x="67" y="224.04" width="4.2" height="1.4"/><rect x="678.00" y="224.04" width="4.2" height="1.4"/><rect x="67" y="199.66" width="4.2" height="1.4"/><rect x="678.00" y="199.66" width="4.2" height="1.4"/><rect x="67" y="175.28" width="4.2" height="1.4"/><rect x="678.00" y="175.28" width="4.2" height="1.4"/><rect x="67" y="150.90" width="7.2" height="1.4"/><rect x="675.00" y="150.90" width="7.2" height="1.4"/><rect x="67" y="126.52" width="4.2" height="1.4"/><rect x="678.00" y="126.52" width="4.2" height="1.4"/><rect x="67" y="102.14" width="4.2" height="1.4"/><rect x="678.00" y="102.14" width="4.2" height="1.4"/><rect x="67" y="77.76" width="4.2" height="1.4"/><rect x="678.00" y="77.76" width="4.2" height="1.4"/><rect x="67" y="53.38" width="4.2" height="1.4"/><rect x="678.00" y="53.38" width="4.2" height="1.4"/><rect x="67" y="29.00" width="7.2" height="1.4"/><rect x="675.00" y="29.00" width="7.2" height="1.4"/><rect x="67" y="4.62" width="4.2" height="1.4"/><rect x="678.00" y="4.62" width="4.2" height="1.4"/><rect x="78.45" y="3" width="1.1" height="9.8"/><rect x="78.45" y="548.20" width="1.1" height="9.8"/><rect x="98.16" y="3" width="1.1" height="5.6"/><rect x="98.16" y="552.40" width="1.1" height="5.6"/><rect x="117.88" y="3" width="1.1" height="5.6"/><rect x="117.88" y="552.40" width="1.1" height="5.6"/><rect x="137.59" y="3" width="1.1" height="5.6"/><rect x="137.59" y="552.40" width="1.1" height="5.6"/><rect x="157.30" y="3" width="1.1" height="5.6"/><rect x="157.30" y="552.40" width="1.1" height="5.6"/><rect x="177.01" y="3" width="1.1" height="9.8"/><rect x="177.01" y="548.20" width="1.1" height="9.8"/><rect x="196.73" y="3" width="1.1" height="5.6"/><rect x="196.73" y="552.40" width="1.1" height="5.6"/><rect x="216.44" y="3" width="1.1" height="5.6"/><rect x="216.44" y="552.40" width="1.1" height="5.6"/><rect x="236.15" y="3" width="1.1" height="5.6"/><rect x="236.15" y="552.40" width="1.1" height="5.6"/><rect x="255.87" y="3" width="1.1" height="5.6"/><rect x="255.87" y="552.40" width="1.1" height="5.6"/><rect x="275.58" y="3" width="1.1" height="9.8"/><rect x="275.58" y="548.20" width="1.1" height="9.8"/><rect x="295.29" y="3" width="1.1" height="5.6"/><rect x="295.29" y="552.40" width="1.1" height="5.6"/><rect x="315.01" y="3" width="1.1" height="5.6"/><rect x="315.01" y="552.40" width="1.1" height="5.6"/><rect x="334.72" y="3" width="1.1" height="5.6"/><rect x="334.72" y="552.40" width="1.1" height="5.6"/><rect x="354.43" y="3" width="1.1" height="5.6"/><rect x="354.43" y="552.40" width="1.1" height="5.6"/><rect x="374.14" y="3" width="1.1" height="9.8"/><rect x="374.14" y="548.20" width="1.1" height="9.8"/><rect x="393.86" y="3" width="1.1" height="5.6"/><rect x="393.86" y="552.40" width="1.1" height="5.6"/><rect x="413.57" y="3" width="1.1" height="5.6"/><rect x="413.57" y="552.40" width="1.1" height="5.6"/><rect x="433.28" y="3" width="1.1" height="5.6"/><rect x="433.28" y="552.40" width="1.1" height="5.6"/><rect x="453.00" y="3" width="1.1" height="5.6"/><rect x="453.00" y="552.40" width="1.1" height="5.6"/><rect x="472.71" y="3" width="1.1" height="9.8"/><rect x="472.71" y="548.20" width="1.1" height="9.8"/><rect x="492.42" y="3" width="1.1" height="5.6"/><rect x="492.42" y="552.40" width="1.1" height="5.6"/><rect x="512.14" y="3" width="1.1" height="5.6"/><rect x="512.14" y="552.40" width="1.1" height="5.6"/><rect x="531.85" y="3" width="1.1" height="5.6"/><rect x="531.85" y="552.40" width="1.1" height="5.6"/><rect x="551.56" y="3" width="1.1" height="5.6"/><rect x="551.56" y="552.40" width="1.1" height="5.6"/><rect x="571.28" y="3" width="1.1" height="9.8"/><rect x="571.28" y="548.20" width="1.1" height="9.8"/><rect x="590.99" y="3" width="1.1" height="5.6"/><rect x="590.99" y="552.40" width="1.1" height="5.6"/><rect x="610.70" y="3" width="1.1" height="5.6"/><rect x="610.70" y="552.40" width="1.1" height="5.6"/><rect x="630.41" y="3" width="1.1" height="5.6"/><rect x="630.41" y="552.40" width="1.1" height="5.6"/><rect x="650.13" y="3" width="1.1" height="5.6"/><rect x="650.13" y="552.40" width="1.1" height="5.6"/><rect x="669.84" y="3" width="1.1" height="9.8"/><rect x="669.84" y="548.20" width="1.1" height="9.8"/></g>
<g style="will-change:transform"><text transform="translate(47.65,40.20) scale(0.7000,1)" font-family="Liberation Sans" font-style="normal" font-size="31.08" fill="#000" stroke="#000" stroke-width="0.300">0</text><path fill="#000" d="M56.00,140.50 L56.00,162.50 L54.10,162.50 L54.10,144.46 L51.50,148.31 Q49.90,148.42 50.20,146.00 L53.80,140.50 Z"/><text transform="translate(47.35,284.20) scale(0.7346,1)" font-family="Liberation Sans" font-style="normal" font-size="31.08" fill="#000" stroke="#000" stroke-width="0.300">2</text><text transform="translate(47.88,406.10) scale(0.6922,1)" font-family="Liberation Sans" font-style="normal" font-size="31.08" fill="#000" stroke="#000" stroke-width="0.300">3</text><text transform="translate(47.72,527.80) scale(0.6516,1)" font-family="Liberation Sans" font-style="normal" font-size="31.98" fill="#000" stroke="#000" stroke-width="0.300">4</text><rect x="33.8" y="152.90" width="5.4" height="2.3" fill="#000"/><rect x="33.8" y="274.60" width="5.4" height="2.3" fill="#000"/><rect x="33.8" y="396.50" width="5.4" height="2.3" fill="#000"/><rect x="33.8" y="518.20" width="5.4" height="2.3" fill="#000"/><text transform="translate(63.27,597.70) scale(0.6866,1)" font-family="Liberation Sans" font-style="normal" font-size="31.08" fill="#000" stroke="#000" stroke-width="0.300">0</text><text transform="translate(74.30,597.70) scale(1.0367,1)" font-family="Liberation Sans" font-style="normal" font-size="24.31" fill="#000" stroke="#000" stroke-width="0.300">.</text><text transform="translate(80.57,597.70) scale(0.6799,1)" font-family="Liberation Sans" font-style="normal" font-size="31.08" fill="#000" stroke="#000" stroke-width="0.300">0</text><text transform="translate(161.83,597.70) scale(0.6866,1)" font-family="Liberation Sans" font-style="normal" font-size="31.08" fill="#000" stroke="#000" stroke-width="0.300">0</text><text transform="translate(172.86,597.70) scale(1.0367,1)" font-family="Liberation Sans" font-style="normal" font-size="24.31" fill="#000" stroke="#000" stroke-width="0.300">.</text><text transform="translate(179.11,597.70) scale(0.6662,1)" font-family="Liberation Sans" font-style="normal" font-size="31.98" fill="#000" stroke="#000" stroke-width="0.300">5</text><path fill="#000" d="M268.53,575.70 L268.53,597.70 L266.63,597.70 L266.63,579.66 L264.03,583.51 Q262.43,583.62 262.73,581.20 L266.33,575.70 Z"/><text transform="translate(271.43,597.70) scale(1.0367,1)" font-family="Liberation Sans" font-style="normal" font-size="24.31" fill="#000" stroke="#000" stroke-width="0.300">.</text><text transform="translate(277.70,597.70) scale(0.6799,1)" font-family="Liberation Sans" font-style="normal" font-size="31.08" fill="#000" stroke="#000" stroke-width="0.300">0</text><path fill="#000" d="M367.09,575.70 L367.09,597.70 L365.19,597.70 L365.19,579.66 L362.60,583.51 Q361.00,583.62 361.30,581.20 L364.89,575.70 Z"/><text transform="translate(369.99,597.70) scale(1.0367,1)" font-family="Liberation Sans" font-style="normal" font-size="24.31" fill="#000" stroke="#000" stroke-width="0.300">.</text><text transform="translate(376.24,597.70) scale(0.6662,1)" font-family="Liberation Sans" font-style="normal" font-size="31.98" fill="#000" stroke="#000" stroke-width="0.300">5</text><text transform="translate(457.23,597.70) scale(0.7204,1)" font-family="Liberation Sans" font-style="normal" font-size="31.08" fill="#000" stroke="#000" stroke-width="0.300">2</text><text transform="translate(468.56,597.70) scale(1.0367,1)" font-family="Liberation Sans" font-style="normal" font-size="24.31" fill="#000" stroke="#000" stroke-width="0.300">.</text><text transform="translate(474.83,597.70) scale(0.6799,1)" font-family="Liberation Sans" font-style="normal" font-size="31.08" fill="#000" stroke="#000" stroke-width="0.300">0</text><text transform="translate(555.80,597.70) scale(0.7204,1)" font-family="Liberation Sans" font-style="normal" font-size="31.08" fill="#000" stroke="#000" stroke-width="0.300">2</text><text transform="translate(567.12,597.70) scale(1.0367,1)" font-family="Liberation Sans" font-style="normal" font-size="24.31" fill="#000" stroke="#000" stroke-width="0.300">.</text><text transform="translate(573.37,597.70) scale(0.6662,1)" font-family="Liberation Sans" font-style="normal" font-size="31.98" fill="#000" stroke="#000" stroke-width="0.300">5</text><text transform="translate(654.67,597.70) scale(0.6922,1)" font-family="Liberation Sans" font-style="normal" font-size="31.08" fill="#000" stroke="#000" stroke-width="0.300">3</text><text transform="translate(665.69,597.70) scale(1.0367,1)" font-family="Liberation Sans" font-style="normal" font-size="24.31" fill="#000" stroke="#000" stroke-width="0.300">.</text><text transform="translate(671.96,597.70) scale(0.6799,1)" font-family="Liberation Sans" font-style="normal" font-size="31.08" fill="#000" stroke="#000" stroke-width="0.300">0</text></g>
<g style="will-change:transform"><text transform="translate(367.12,659.75) scale(0.7280,1)" font-family="Liberation Serif" font-style="italic" font-size="37.49" fill="#000" stroke="#000" stroke-width="0.300">ζ</text><text transform="translate(14.80,309.10) rotate(-90) scale(1.5217,1)" font-family="Liberation Sans" font-style="normal" font-size="20.31">g</text><text transform="translate(13.97,290.25) rotate(-90) scale(1.2968,1)" font-family="Liberation Sans" font-style="normal" font-size="18.03">(</text><text transform="translate(15.60,281.91) rotate(-90) scale(1.6540,1)" font-family="Liberation Serif" font-style="italic" font-size="22.70">ζ</text><text transform="translate(14.04,259.93) rotate(-90) scale(1.2683,1)" font-family="Liberation Sans" font-style="normal" font-size="18.14">)</text></g>
<g fill="#000"><rect x="433.2" y="10.6" width="2.4" height="100"/><path d="M427.1,99.9 Q432.6,101.8 433.1,116.7 L435.7,116.7 Q436.2,101.8 441.7,99.7 Q442.7,97.3 440.1,96.9 Q436.6,98.4 435.8,105.8 L433.0,105.8 Q432.2,98.4 428.7,96.9 Q426.1,97.3 427.1,99.9 Z"/></g>
<rect x="525.5" y="326" width="159" height="233" fill="#fff" stroke="none"/><rect x="525" y="325.5" width="1" height="234" fill="#555"/><rect x="525" y="325.5" width="159.5" height="1" fill="#555"/><rect x="684" y="325.5" width="1" height="234" fill="#888"/><rect x="525" y="558" width="160" height="1.8" fill="#4a4a4a"/>
<g style="will-change:transform"><rect x="530.9" y="355.50" width="18.2" height="3.5" fill="#ff0000"/><text transform="translate(582.17,369.80) scale(0.5759,1)" font-family="Liberation Sans" font-style="normal" font-size="30.38" fill="#000" stroke="#000" stroke-width="0.300">A</text><path fill="#000" d="M603.10,358.60 L603.10,378.50 L601.30,378.50 L601.30,362.18 L599.20,365.66 Q597.60,365.76 597.90,363.58 L601.00,358.60 Z"/><text transform="translate(613.74,369.80) scale(0.8870,1)" font-family="Liberation Sans" font-style="normal" font-size="26.69" fill="#000" stroke="#000" stroke-width="0.300">=</text><text transform="translate(633.38,369.20) scale(0.6700,1)" font-family="Liberation Sans" font-style="normal" font-size="31.22" fill="#000" stroke="#000" stroke-width="0.300">0</text><text transform="translate(644.01,369.20) scale(1.1231,1)" font-family="Liberation Sans" font-style="normal" font-size="24.31" fill="#000" stroke="#000" stroke-width="0.300">.</text><path fill="#000" d="M658.20,347.10 L658.20,369.20 L656.30,369.20 L656.30,351.08 L654.10,354.95 Q652.50,355.06 652.80,352.62 L656.00,347.10 Z"/><text transform="translate(662.07,369.20) scale(0.6767,1)" font-family="Liberation Sans" font-style="normal" font-size="31.22" fill="#000" stroke="#000" stroke-width="0.300">0</text><rect x="530.9" y="411.10" width="18.2" height="3.5" fill="#00ff00"/><text transform="translate(582.17,425.40) scale(0.5759,1)" font-family="Liberation Sans" font-style="normal" font-size="30.38" fill="#000" stroke="#000" stroke-width="0.300">A</text><path fill="#000" d="M603.10,414.20 L603.10,434.10 L601.30,434.10 L601.30,417.78 L599.20,421.26 Q597.60,421.36 597.90,419.18 L601.00,414.20 Z"/><text transform="translate(613.74,425.40) scale(0.8870,1)" font-family="Liberation Sans" font-style="normal" font-size="26.69" fill="#000" stroke="#000" stroke-width="0.300">=</text><text transform="translate(633.38,424.80) scale(0.6700,1)" font-family="Liberation Sans" font-style="normal" font-size="31.22" fill="#000" stroke="#000" stroke-width="0.300">0</text><text transform="translate(644.01,424.80) scale(1.1231,1)" font-family="Liberation Sans" font-style="normal" font-size="24.31" fill="#000" stroke="#000" stroke-width="0.300">.</text><text transform="translate(650.19,424.80) scale(0.7011,1)" font-family="Liberation Sans" font-style="normal" font-size="31.22" fill="#000" stroke="#000" stroke-width="0.300">6</text><text transform="translate(662.07,424.80) scale(0.6767,1)" font-family="Liberation Sans" font-style="normal" font-size="31.22" fill="#000" stroke="#000" stroke-width="0.300">0</text><rect x="530.9" y="466.70" width="18.2" height="3.5" fill="#ff00ff"/><text transform="translate(582.17,481.00) scale(0.5759,1)" font-family="Liberation Sans" font-style="normal" font-size="30.38" fill="#000" stroke="#000" stroke-width="0.300">A</text><path fill="#000" d="M603.10,469.80 L603.10,489.70 L601.30,489.70 L601.30,473.38 L599.20,476.86 Q597.60,476.96 597.90,474.77 L601.00,469.80 Z"/><text transform="translate(613.74,481.00) scale(0.8870,1)" font-family="Liberation Sans" font-style="normal" font-size="26.69" fill="#000" stroke="#000" stroke-width="0.300">=</text><path fill="#000" d="M641.10,458.30 L641.10,480.40 L639.20,480.40 L639.20,462.28 L637.00,466.15 Q635.40,466.26 635.70,463.82 L638.90,458.30 Z"/><text transform="translate(644.01,480.40) scale(1.1231,1)" font-family="Liberation Sans" font-style="normal" font-size="24.31" fill="#000" stroke="#000" stroke-width="0.300">.</text><path fill="#000" d="M658.20,458.30 L658.20,480.40 L656.30,480.40 L656.30,462.28 L654.10,466.15 Q652.50,466.26 652.80,463.82 L656.00,458.30 Z"/><text transform="translate(662.07,480.40) scale(0.6767,1)" font-family="Liberation Sans" font-style="normal" font-size="31.22" fill="#000" stroke="#000" stroke-width="0.300">0</text><rect x="530.9" y="522.30" width="18.2" height="3.5" fill="#0000ff"/><text transform="translate(582.17,536.60) scale(0.5759,1)" font-family="Liberation Sans" font-style="normal" font-size="30.38" fill="#000" stroke="#000" stroke-width="0.300">A</text><path fill="#000" d="M603.10,525.40 L603.10,545.30 L601.30,545.30 L601.30,528.98 L599.20,532.46 Q597.60,532.56 597.90,530.38 L601.00,525.40 Z"/><text transform="translate(613.74,536.60) scale(0.8870,1)" font-family="Liberation Sans" font-style="normal" font-size="26.69" fill="#000" stroke="#000" stroke-width="0.300">=</text><path fill="#000" d="M641.10,513.90 L641.10,536.00 L639.20,536.00 L639.20,517.88 L637.00,521.75 Q635.40,521.86 635.70,519.42 L638.90,513.90 Z"/><text transform="translate(644.01,536.00) scale(1.1231,1)" font-family="Liberation Sans" font-style="normal" font-size="24.31" fill="#000" stroke="#000" stroke-width="0.300">.</text><text transform="translate(650.19,536.00) scale(0.7011,1)" font-family="Liberation Sans" font-style="normal" font-size="31.22" fill="#000" stroke="#000" stroke-width="0.300">6</text><text transform="translate(662.07,536.00) scale(0.6767,1)" font-family="Liberation Sans" font-style="normal" font-size="31.22" fill="#000" stroke="#000" stroke-width="0.300">0</text></g></svg></body></html>
